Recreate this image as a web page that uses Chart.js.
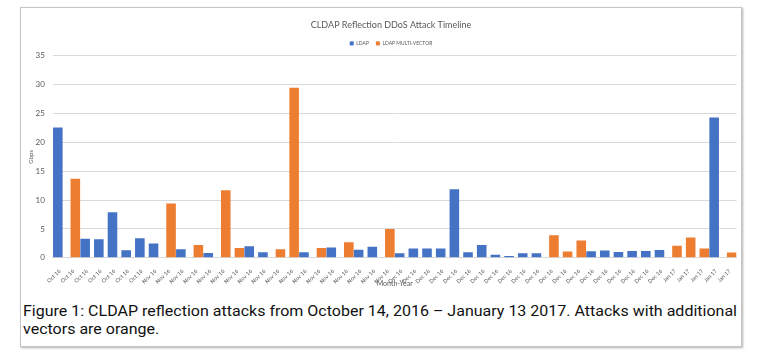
<!DOCTYPE html>
<html>
<head>
<meta charset="utf-8">
<script src="https://cdn.jsdelivr.net/npm/chart.js@4.4.1/dist/chart.umd.min.js"></script>
<style>
  html, body { margin: 0; padding: 0; background: #fff; width: 763px; height: 360px; overflow: hidden; }
  #frame { position: absolute; left: 20px; top: 7px; width: 720px; height: 338px;
           border: 1px solid #c6c6c6; box-shadow: 1px 1px 2px #b0b0b0; }
  #wrap { position: absolute; left: 0; top: 0; width: 763px; height: 300px; }
  #caption { position: absolute; left: 23px; top: 302px; font-family: Roboto, sans-serif;
             font-size: 15.5px; line-height: 18.4px; color: #111; white-space: nowrap; }
  #caption span { display: inline-block; transform-origin: 0 0; }
</style>
</head>
<body>
<div id="frame"></div>
<div id="wrap"><canvas id="myChart" width="763" height="300"></canvas></div>
<div id="caption">
  <span id="cap1">Figure 1: CLDAP reflection attacks from October 14, 2016 – January 13 2017. Attacks with additional</span><br>
  <span id="cap2">vectors are orange.</span>
</div>
<script>
const labels = [
  'Oct 16','Oct 16','Oct 16','Oct 16','Oct 16','Oct 16','Oct 16',
  'Nov 16','Nov 16','Nov 16','Nov 16','Nov 16','Nov 16','Nov 16','Nov 16','Nov 16',
  'Nov 16','Nov 16','Nov 16','Nov 16','Nov 16','Nov 16','Nov 16','Nov 16','Nov 16',
  'Dec 16','Dec 16','Dec 16','Dec 16','Dec 16','Dec 16','Dec 16','Dec 16','Dec 16','Dec 16',
  'Dec 16','Dec 16','Dec 16','Dec 16','Dec 16','Dec 16','Dec 16','Dec 16','Dec 16','Dec 16',
  'Jan 17','Jan 17','Jan 17','Jan 17','Jan 17'
];
// LDAP only (blue)
const ldap = [
  22.6, null, 3.3, 3.2, 7.9, 1.3, 3.4, 2.5, null, 1.5,
  null, 0.85, null, null, 2.0, 0.95, null, null, 0.95, null,
  1.8, null, 1.4, 1.9, null, 0.8, 1.6, 1.6, 1.6, 11.9,
  0.95, 2.2, 0.55, 0.3, 0.8, 0.8, null, null, null, 1.15,
  1.25, 1.0, 1.2, 1.2, 1.35, null, null, null, 24.3, null
];
// LDAP with additional vectors (orange)
const multiVector = [
  null, 13.7, null, null, null, null, null, null, 9.4, null,
  2.2, null, 11.7, 1.7, null, null, 1.5, 29.5, null, 1.7,
  null, 2.7, null, null, 5.0, null, null, null, null, null,
  null, null, null, null, null, null, 3.9, 1.1, 3.0, null,
  null, null, null, null, null, 2.1, 3.5, 1.6, null, 0.9
];
const yTicks = [0, 5, 10, 15, 20, 25, 30, 35];

const gray = '#595959';
const font = 'Lato, "Open Sans", sans-serif';

const setup = () => {
  const ctxt = document.getElementById('myChart').getContext('2d');
  new Chart(ctxt, {
    type: 'bar',
    data: {
      labels: labels,
      datasets: [
        { label: 'LDAP', data: ldap, backgroundColor: '#4472C4', borderWidth: 0 },
        { label: 'LDAP MULTI-VECTOR', data: multiVector, backgroundColor: '#ED7D31', borderWidth: 0 }
      ]
    },
    options: {
      responsive: false,
      animation: false,
      categoryPercentage: 0.563,
      barPercentage: 2.49,
      layout: { padding: { left: 20, right: 1, top: 7, bottom: 0 } },
      plugins: {
        title: {
          display: true,
          text: 'CLDAP Reflection DDoS Attack Timeline',
          color: gray,
          font: { family: font, size: 9, weight: 'normal' },
          padding: { top: 12.6, bottom: 3.5 }
        },
        legend: {
          display: true,
          labels: {
            color: gray,
            font: { family: font, size: 5 },
            boxWidth: 4, boxHeight: 4, padding: 7
          }
        },
        tooltip: { enabled: false }
      },
      scales: {
        x: {
          grid: { display: false },
          border: { color: '#d9d9d9' },
          ticks: {
            color: gray, font: { family: font, size: 5.5 },
            minRotation: 45, maxRotation: 45, autoSkip: false, padding: 2
          },
          title: {
            display: true, text: 'Month-Year', color: gray,
            font: { family: font, size: 7 }, padding: { top: 0, bottom: 11.8 }
          },
          afterFit: (scale) => { scale.height = 42.2; }
        },
        y: {
          min: 0, max: 35,
          afterBuildTicks: (scale) => { scale.ticks = yTicks.map(v => ({ value: v })); },
          grid: { color: '#d9d9d9', drawTicks: false },
          border: { display: false },
          ticks: { color: gray, font: { family: font, size: 8 }, padding: 8 },
          title: {
            display: true, text: 'Gbps', color: gray,
            font: { family: font, size: 6 }, padding: { top: 7, bottom: 0 }
          },
          afterFit: (scale) => { scale.width = 32.9; }
        },
        // empty right-hand box so the title and legend centre over the plot like the original
        yRight: {
          position: 'right',
          grid: { display: false },
          border: { display: false },
          ticks: { display: false },
          afterFit: (scale) => { scale.width = 25.4; }
        }
      }
    }
  });

  // fit the caption lines to the width of the original figure text
  const cap1 = document.getElementById('cap1');
  const cap2 = document.getElementById('cap2');
  const k = 714 / cap1.getBoundingClientRect().width;
  cap1.style.transform = `scaleX(${k})`;
  cap2.style.transform = `scaleX(${k})`;
}

window.addEventListener('DOMContentLoaded', setup);
</script>
</body>
</html>
